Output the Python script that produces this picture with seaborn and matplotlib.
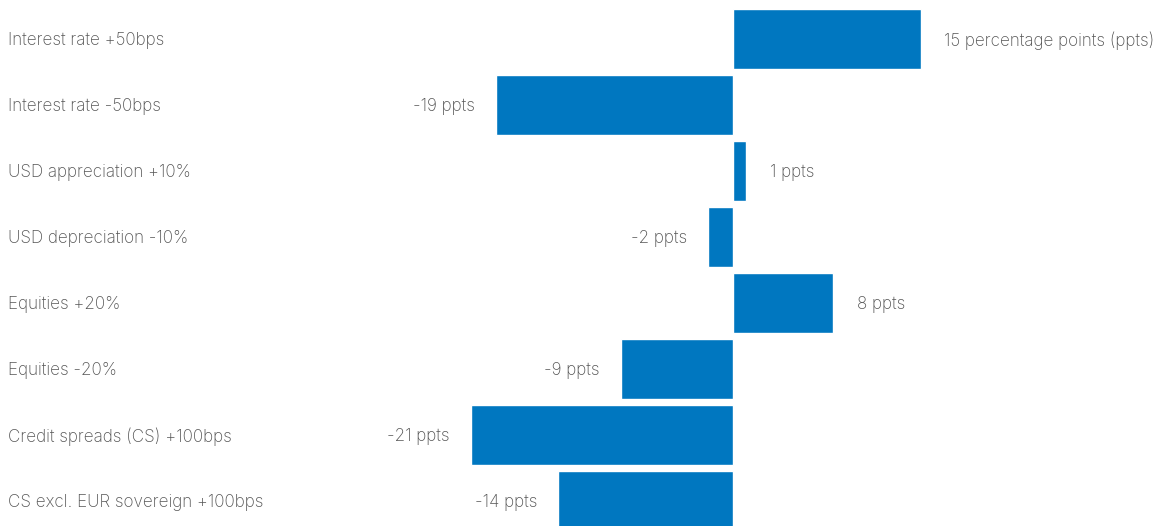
import matplotlib
matplotlib.use("Agg")
import matplotlib.pyplot as plt
import seaborn as sns
import pandas as pd

categories = [
    "Interest rate +50bps",
    "Interest rate -50bps",
    "USD appreciation +10%",
    "USD depreciation -10%",
    "Equities +20%",
    "Equities -20%",
    "Credit spreads (CS) +100bps",
    "CS excl. EUR sovereign +100bps",
]
values = [15, -19, 1, -2, 8, -9, -21, -14]
value_labels = [
    "15 percentage points (ppts)",
    "-19 ppts",
    "1 ppts",
    "-2 ppts",
    "8 ppts",
    "-9 ppts",
    "-21 ppts",
    "-14 ppts",
]

sns.set_theme(style="white")
plt.rcParams["font.family"] = ["Inter", "DejaVu Sans"]

BAR = "#0077c0"
TXT = "#555555"
FS = 12.3

df = pd.DataFrame({"cat": categories, "val": values})

fig = plt.figure(figsize=(11.57, 5.26), dpi=100)
ax = fig.add_axes([0, 0, 1, 1])
sns.barplot(data=df, x="val", y="cat", orient="h", color=BAR, saturation=1,
            width=0.91, ax=ax)

ax.set_xlim(-733 / 12.5, (1157 - 733) / 12.5)
ax.set_ylim((526 - 39) / 66, -39 / 66)
ax.axis("off")

for i, (v, lab) in enumerate(zip(values, value_labels)):
    if v >= 0:
        ax.annotate(lab, xy=(v, i), xytext=(24, -1.5), textcoords="offset pixels",
                    ha="left", va="center", fontsize=FS, color=TXT,
                    fontweight="light")
    else:
        ax.annotate(lab, xy=(v, i), xytext=(-21, -1.5), textcoords="offset pixels",
                    ha="right", va="center", fontsize=FS, color=TXT,
                    fontweight="light")

for i, c in enumerate(categories):
    ax.annotate(c, xy=(0, i), xycoords=("axes fraction", "data"),
                xytext=(8, -1.5), textcoords="offset pixels",
                ha="left", va="center", fontsize=FS, color=TXT,
                fontweight="light")

fig.savefig("out.png", dpi=100)
